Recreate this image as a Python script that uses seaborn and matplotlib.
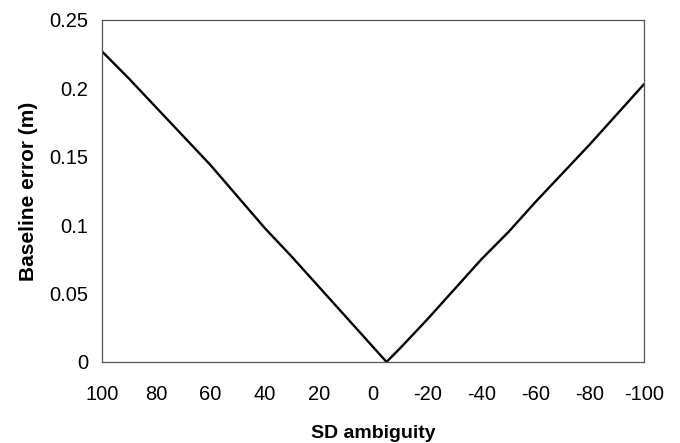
import matplotlib
matplotlib.use("Agg")
import matplotlib.pyplot as plt
import seaborn as sns
import pandas as pd

sd_ambiguity = [100, 90, 80, 70, 60, 50, 40, 30, 20, 10, 0, -5,
                -10, -20, -30, -40, -50, -60, -70, -80, -90, -100]
baseline_error = [0.227, 0.207, 0.186, 0.165, 0.144, 0.121, 0.098, 0.077, 0.055, 0.033, 0.011, 0.0,
                  0.010, 0.031, 0.053, 0.075, 0.095, 0.117, 0.138, 0.159, 0.181, 0.203]
x_ticks = [100, 80, 60, 40, 20, 0, -20, -40, -60, -80, -100]
y_ticks = [0, 0.05, 0.1, 0.15, 0.2, 0.25]
y_tick_labels = ["0", "0.05", "0.1", "0.15", "0.2", "0.25"]

sns.set_theme(style="white")
plt.rcParams['font.family'] = ['Liberation Sans', 'DejaVu Sans']

df = pd.DataFrame({"x": sd_ambiguity, "y": baseline_error})

fig = plt.figure(figsize=(6.8, 4.43), dpi=100)
ax = fig.add_axes([0.15, 0.183, 0.797, 0.772])
sns.lineplot(data=df, x="x", y="y", ax=ax, color="black", linewidth=1.7, sort=False)

ax.set_xlim(100, -100)
ax.set_ylim(0, 0.25)
ax.set_xticks(x_ticks)
ax.set_xticklabels([str(t) for t in x_ticks])
ax.set_yticks(y_ticks)
ax.set_yticklabels(y_tick_labels)
ax.tick_params(axis="both", direction="in", length=4, width=0.8, color="#333333",
               labelsize=14.5, labelcolor="black")
ax.tick_params(axis="x", pad=16.5)
ax.tick_params(axis="y", pad=10)
for s in ax.spines.values():
    s.set_color("#555555")
    s.set_linewidth(0.9)
ax.set_xlabel("SD ambiguity", fontsize=14, fontweight="bold", labelpad=15, color="black")
ax.set_ylabel("Baseline error (m)", fontsize=15, fontweight="bold", labelpad=8, color="black")

fig.savefig("out.png", dpi=100)
